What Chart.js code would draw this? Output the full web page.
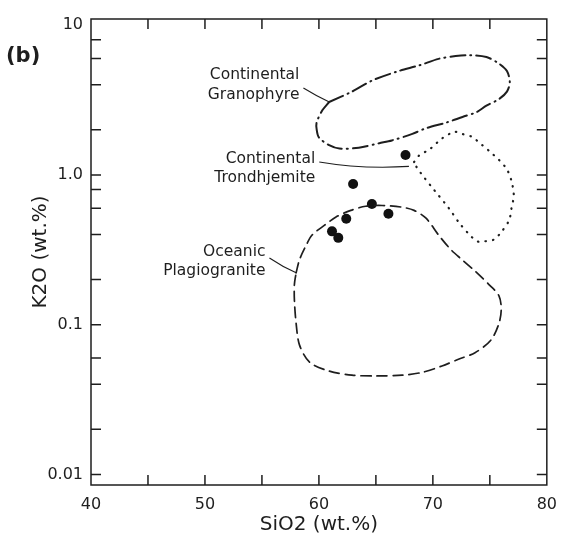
<!DOCTYPE html>
<html>
<head>
<meta charset="utf-8">
<script src="https://cdn.jsdelivr.net/npm/chart.js@4.4.0/dist/chart.umd.min.js"></script>
<style>
    html, body { margin: 0; padding: 0; background: #fff; }
    #wrap { width: 567px; height: 537px; }
</style>
</head>
<body>
<div id="wrap"><canvas id="myScatterChart" width="567" height="537"></canvas></div>
<script>
// samples (black dots)
const sampleSiO2 = [67.6, 63.0, 64.65, 66.1, 62.4, 61.15, 61.7];
const sampleK2O = [1.36, 0.87, 0.64, 0.55, 0.51, 0.42, 0.38];

// field outlines
const granophyreSiO2 = [60.9, 62.9, 64.7, 67.0, 68.8, 70.5, 72.0, 73.2, 74.7, 75.8, 76.5, 76.75, 76.5, 75.8, 74.7, 73.8, 72.6, 71.2, 69.4, 68.2, 66.4, 65.3, 63.5, 61.8, 60.9, 60.0, 59.8, 59.8, 60.3];
const granophyreK2O = [3.07, 3.60, 4.28, 4.94, 5.39, 5.96, 6.22, 6.31, 6.13, 5.54, 4.94, 4.16, 3.60, 3.21, 2.90, 2.62, 2.44, 2.24, 2.05, 1.88, 1.70, 1.63, 1.52, 1.50, 1.58, 1.78, 2.02, 2.24, 2.70];

const trondhjemiteSiO2 = [68.35, 68.8, 69.7, 70.8, 71.9, 72.55, 73.4, 74.3, 75.1, 75.8, 76.5, 76.9, 77.1, 76.9, 76.7, 76.05, 75.35, 74.5, 73.9, 73.2, 72.3, 71.4, 70.5, 69.9, 69.2, 68.6];
const trondhjemiteK2O = [1.22, 1.35, 1.48, 1.75, 1.94, 1.88, 1.80, 1.59, 1.41, 1.26, 1.09, 0.91, 0.73, 0.60, 0.50, 0.42, 0.37, 0.36, 0.36, 0.40, 0.48, 0.60, 0.73, 0.83, 0.97, 1.12];

const oceanicSiO2 = [58.0, 58.3, 58.9, 59.4, 60.5, 61.5, 62.8, 64.1, 65.55, 67.3, 68.35, 69.4, 70.5, 71.6, 72.55, 73.7, 74.9, 75.8, 76.0, 75.8, 75.1, 73.7, 72.3, 70.8, 69.05, 67.3, 65.0, 62.9, 60.9, 59.2, 58.3, 58.0, 57.85, 57.85];
const oceanicK2O = [0.222, 0.272, 0.341, 0.397, 0.462, 0.524, 0.580, 0.618, 0.625, 0.609, 0.580, 0.514, 0.397, 0.316, 0.272, 0.228, 0.186, 0.156, 0.127, 0.102, 0.079, 0.065, 0.059, 0.053, 0.048, 0.046, 0.0455, 0.046, 0.049, 0.056, 0.073, 0.102, 0.145, 0.186];

// axes
const xTicks = [40, 45, 50, 55, 60, 65, 70, 75, 80];
const xLabels = [40, 50, 60, 70, 80];
const yTicks = [10, 8, 6, 4, 2, 1, 0.8, 0.6, 0.4, 0.2, 0.1, 0.06, 0.04, 0.02, 0.01];
const yLabelValues = [10, 1, 0.1, 0.01];
const yLabelTexts = ['10', '1.0', '0.1', '0.01'];

const ink = '#1e1e1e';
const fontName = '"DejaVu Sans", sans-serif';

function toPoints(xs, ys, close) {
    let pts = xs.map((x, i) => ({ x: x, y: ys[i] }));
    if (close) pts.push({ x: xs[0], y: ys[0] });
    return pts;
}

function outline(data, dash, width) {
    return {
        data: data,
        showLine: true,
        borderColor: ink,
        borderWidth: width,
        borderDash: dash,
        borderCapStyle: 'round',
        pointRadius: 0,
        tension: 0.3,
        fill: false
    };
}

// frame, inward ticks, panel letter and field names
const notesPlugin = {
    id: 'notes',
    afterDraw(chart) {
        const ctx = chart.ctx;
        const a = chart.chartArea;
        const xs = chart.scales.x;
        const ys = chart.scales.y;
        ctx.save();
        ctx.strokeStyle = ink;
        ctx.lineWidth = 1.5;
        ctx.strokeRect(a.left, a.top, a.right - a.left, a.bottom - a.top);

        ctx.beginPath();
        xTicks.forEach((v) => {
            if (v === 40 || v === 80) return;
            const px = xs.getPixelForValue(v);
            ctx.moveTo(px, a.bottom); ctx.lineTo(px, a.bottom - 10);
            ctx.moveTo(px, a.top); ctx.lineTo(px, a.top + 10);
        });
        yTicks.forEach((v) => {
            if (v === 10) return;
            const py = ys.getPixelForValue(v);
            ctx.moveTo(a.left, py); ctx.lineTo(a.left + 10, py);
            ctx.moveTo(a.right, py); ctx.lineTo(a.right - 10, py);
        });
        ctx.stroke();

        ctx.fillStyle = ink;
        ctx.font = 'bold 21px ' + fontName;
        ctx.textAlign = 'left';
        ctx.textBaseline = 'middle';
        ctx.fillText('(b)', 6, 57);

        // leader lines: start, bend, end (data units)
        const notes = [
            { lines: ['Continental', 'Granophyre'], dy: [-13, 7], pts: [[58.64, 3.81], [59.69, 3.40], [60.91, 3.07]] },
            { lines: ['Continental', 'Trondhjemite'], dy: [-3, 16], pts: [[60.03, 1.22], [63.8, 1.09], [67.9, 1.14]] },
            { lines: ['Oceanic', 'Plagiogranite'], dy: [-6, 13], pts: [[55.66, 0.279], [56.8, 0.244], [58.0, 0.222]] }
        ];
        ctx.font = '15.5px ' + fontName;
        ctx.textAlign = 'right';
        ctx.lineWidth = 1.1;
        notes.forEach((n) => {
            const p = n.pts.map((q) => [xs.getPixelForValue(q[0]), ys.getPixelForValue(q[1])]);
            ctx.beginPath();
            ctx.moveTo(p[0][0], p[0][1]);
            ctx.quadraticCurveTo(p[1][0], p[1][1], p[2][0], p[2][1]);
            ctx.stroke();
            n.lines.forEach((t, i) => {
                ctx.fillText(t, p[0][0] - 4, p[0][1] + n.dy[i]);
            });
        });
        ctx.restore();
    }
};

const ctx = document.getElementById('myScatterChart').getContext('2d');
const myScatterChart = new Chart(ctx, {
    type: 'scatter',
    data: {
        datasets: [
            outline(toPoints(granophyreSiO2, granophyreK2O, true), [15, 5, 1, 5], 2),
            outline(toPoints(trondhjemiteSiO2, trondhjemiteK2O, true), [0.5, 7], 2.2),
            outline(toPoints(oceanicSiO2, oceanicK2O, true), [10, 6], 1.7),
            {
                data: toPoints(sampleSiO2, sampleK2O, false),
                showLine: false,
                pointRadius: 5,
                pointBackgroundColor: '#111',
                pointBorderWidth: 0
            }
        ]
    },
    options: {
        responsive: false,
        devicePixelRatio: 1,
        animation: false,
        layout: { padding: { left: 0, right: 19, top: 19, bottom: 0 } },
        plugins: {
            legend: { display: false },
            tooltip: { enabled: false }
        },
        scales: {
            x: {
                type: 'linear',
                min: 40,
                max: 80,
                afterBuildTicks: (scale) => { scale.ticks = xTicks.map((v) => ({ value: v })); },
                afterFit: (scale) => { scale.height = 52; },
                grid: { display: false, drawTicks: false },
                border: { display: false },
                ticks: {
                    autoSkip: false,
                    maxRotation: 0,
                    padding: 10,
                    color: ink,
                    font: { family: fontName, size: 16 },
                    callback: (v) => xLabels.includes(v) ? String(v) : ''
                },
                title: {
                    display: true,
                    text: 'SiO2 (wt.%)',
                    color: ink,
                    font: { family: fontName, size: 20 },
                    padding: { top: 0, bottom: 0 }
                }
            },
            y: {
                type: 'logarithmic',
                min: 0.0085,
                max: 11,
                afterBuildTicks: (scale) => { scale.ticks = yTicks.map((v) => ({ value: v })); },
                afterFit: (scale) => { scale.width = 91; },
                grid: { display: false, drawTicks: false },
                border: { display: false },
                ticks: {
                    autoSkip: false,
                    padding: 8,
                    color: ink,
                    font: { family: fontName, size: 16 },
                    callback: (v) => {
                        const i = yLabelValues.indexOf(v);
                        return i >= 0 ? yLabelTexts[i] : '';
                    }
                },
                title: {
                    display: true,
                    text: 'K2O (wt.%)',
                    color: ink,
                    font: { family: fontName, size: 20 },
                    padding: { top: 29, bottom: 0 }
                }
            }
        }
    },
    plugins: [notesPlugin]
});
</script>
</body>
</html>
